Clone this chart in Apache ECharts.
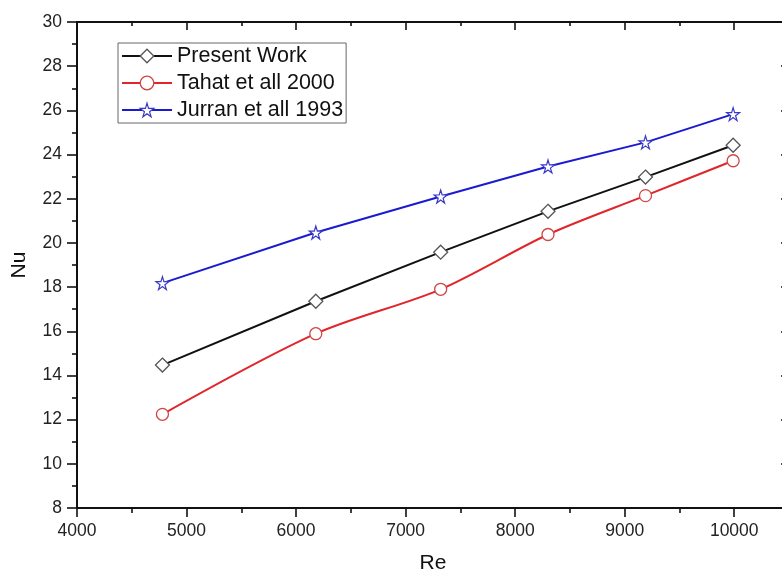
<!DOCTYPE html>
<html>
<head>
<meta charset="utf-8">
<script src="https://cdn.jsdelivr.net/npm/echarts@6/dist/echarts.min.js"></script>
<style>
  html, body { margin: 0; padding: 0; background: #fff; }
  #chart { width: 782px; height: 573px; }
</style>
</head>
<body>
<div id="chart"></div>
<script>
// Re values (x) and Nu values for each curve
var reValues = [4780, 6180, 7320, 8300, 9190, 9990];
var presentWork = [14.47, 17.36, 19.58, 21.43, 22.98, 24.42];
var tahat2000 = [12.24, 15.89, 17.9, 20.38, 22.14, 23.72];
var jurran1993 = [18.18, 20.47, 22.1, 23.46, 24.55, 25.83];
var seriesNames = ['Present Work', 'Tahat et all 2000', 'Jurran et all 1993'];

var starPath = 'path://M50,0 L61,35 L98,35 L68,57 L79,91 L50,70 L21,91 L32,57 L2,35 L39,35 Z';

function pairs(ys) {
    return reValues.map(function (x, i) { return [x, ys[i]]; });
}

var myChart = echarts.init(document.getElementById('chart'));

var tickStyle = { color: '#111', width: 1.6 };
var plainNum = function (v) { return String(v); };

var markerStyles = [
    { color: '#fff', borderColor: '#555', borderWidth: 1.3 },
    { color: '#fff', borderColor: '#d04545', borderWidth: 1.3 },
    { color: '#fff', borderColor: '#3a3ac8', borderWidth: 1.2 }
];

var option = {
    backgroundColor: '#fff',
    animation: false,
    textStyle: { fontFamily: 'Liberation Sans, Arial, sans-serif' },
    grid: {
        left: 77,
        top: 22,
        width: 712,
        height: 486,
        containLabel: false,
        outerBoundsMode: 'none'
    },
    legend: {
        orient: 'vertical',
        left: 118,
        top: 43,
        padding: [2, 3, 2, 3],
        itemWidth: 50,
        itemHeight: 17,
        itemGap: 5,
        borderColor: '#666',
        borderWidth: 1,
        backgroundColor: '#fff',
        textStyle: { fontSize: 21.5, color: '#111', lineHeight: 22 },
        data: seriesNames.map(function (n, i) {
            return { name: n, itemStyle: markerStyles[i] };
        })
    },
    xAxis: [{
        type: 'value',
        position: 'bottom',
        min: 4000,
        max: 10500,
        interval: 1000,
        name: 'Re',
        nameLocation: 'middle',
        nameGap: 45,
        nameTextStyle: { fontSize: 21, color: '#111' },
        axisLine: { lineStyle: { color: '#111', width: 2 } },
        axisTick: { length: 9, lineStyle: tickStyle },
        minorTick: { show: true, splitNumber: 2, length: 5, lineStyle: tickStyle },
        axisLabel: { fontSize: 17.5, color: '#222', margin: 14, showMaxLabel: false, formatter: plainNum },
        splitLine: { show: false }
    }, {
        type: 'value',
        position: 'top',
        min: 4000,
        max: 10500,
        interval: 1000,
        axisLine: { lineStyle: { color: '#111', width: 2 } },
        axisTick: { inside: true, length: 8, lineStyle: tickStyle },
        minorTick: { show: true, splitNumber: 2, length: 4, lineStyle: tickStyle },
        axisLabel: { show: false },
        splitLine: { show: false }
    }],
    yAxis: [{
        type: 'value',
        position: 'left',
        min: 8,
        max: 30,
        interval: 2,
        name: 'Nu',
        nameLocation: 'middle',
        nameGap: 47,
        nameTextStyle: { fontSize: 21, color: '#111' },
        axisLine: { lineStyle: { color: '#111', width: 2 } },
        axisTick: { length: 10, lineStyle: tickStyle },
        minorTick: { show: true, splitNumber: 2, length: 5, lineStyle: tickStyle },
        axisLabel: { fontSize: 17.5, color: '#222', margin: 15, formatter: plainNum },
        splitLine: { show: false }
    }, {
        type: 'value',
        position: 'right',
        min: 8,
        max: 30,
        interval: 2,
        axisLine: { lineStyle: { color: '#111', width: 2 } },
        axisTick: { inside: true, length: 8, lineStyle: tickStyle },
        minorTick: { show: true, splitNumber: 2, length: 4, lineStyle: tickStyle },
        axisLabel: { show: false },
        splitLine: { show: false }
    }],
    series: [{
        name: seriesNames[0],
        type: 'line',
        symbol: 'diamond',
        symbolSize: 14,
        lineStyle: { color: '#111', width: 2 },
        itemStyle: markerStyles[0],
        data: pairs(presentWork)
    }, {
        name: seriesNames[1],
        type: 'line',
        symbol: 'circle',
        symbolSize: 12,
        smooth: 0.3,
        lineStyle: { color: '#e0262b', width: 2 },
        itemStyle: markerStyles[1],
        data: pairs(tahat2000)
    }, {
        name: seriesNames[2],
        type: 'line',
        symbol: starPath,
        symbolSize: 13,
        lineStyle: { color: '#1a1ad0', width: 2 },
        itemStyle: markerStyles[2],
        data: pairs(jurran1993)
    }]
};

myChart.setOption(option);
</script>
</body>
</html>
